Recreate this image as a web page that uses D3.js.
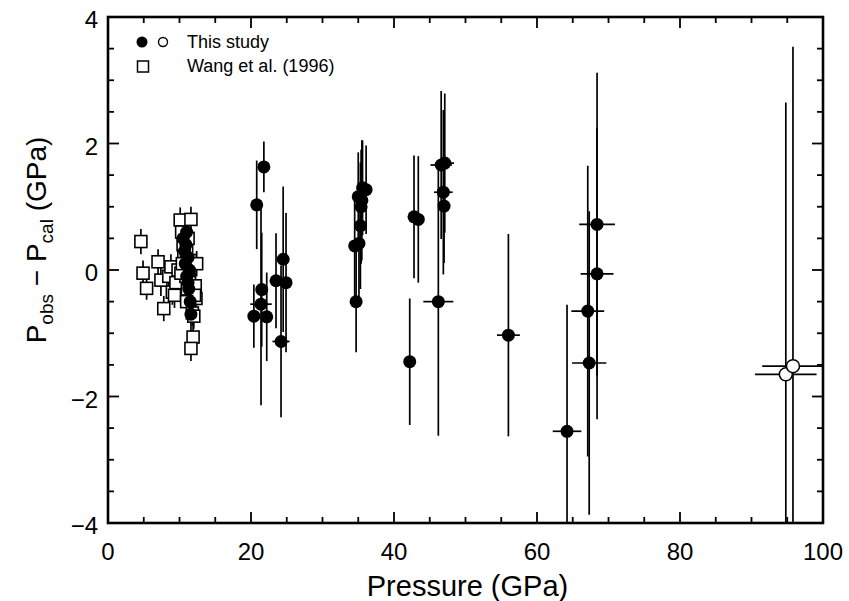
<!DOCTYPE html>
<html>
<head>
<meta charset="utf-8">
<script src="https://cdn.jsdelivr.net/npm/d3@7"></script>
<style>
  body { margin: 0; background: #fff; }
  svg { font-family: "Liberation Sans", Arial, Helvetica, sans-serif; }
</style>
</head>
<body>
<div id="chart"></div>
<script>
// This study, filled symbols: [pressure, Pobs-Pcal, sigmaP, sigmaDiff]
const thisStudyFilled = [
  [10.5, 0.5, 0, 0.3], [10.7, 0.3, 0, 0.3], [10.8, 0.1, 0, 0.3], [11.0, -0.1, 0, 0.3],
  [11.2, 0.2, 0, 0.3], [11.0, 0.6, 0, 0.3], [11.3, -0.3, 0, 0.3], [11.5, -0.5, 0, 0.3],
  [11.4, 0.0, 0, 0.3], [10.9, 0.4, 0, 0.3], [11.6, -0.7, 0, 0.3], [11.2, -0.2, 0, 0.3],
  [20.4, -0.73, 0, 0.5], [20.8, 1.03, 0, 0.7], [21.4, -0.54, 1.5, 1.6], [21.5, -0.31, 0, 0.9],
  [21.8, 1.63, 0, 0.4], [22.2, -0.74, 0, 0.7], [23.5, -0.17, 0, 0.75], [24.2, -1.13, 1.2, 1.2],
  [24.5, 0.17, 0, 1.15], [24.9, -0.2, 0, 1.1],
  [34.7, -0.5, 0, 0.8], [34.5, 0.38, 0, 0.85], [35.1, 0.42, 0, 0.9], [35.0, 1.16, 0, 0.7],
  [35.4, 1.0, 0, 0.9], [35.3, 0.7, 0, 1.0], [35.6, 1.3, 0, 0.75], [36.1, 1.27, 0, 0.7],
  [35.5, 1.1, 0, 0.95],
  [42.2, -1.45, 0, 1.0], [42.8, 0.84, 0, 0.97], [43.4, 0.8, 0, 1.0], [46.2, -0.5, 2.1, 2.12],
  [46.6, 1.66, 1.5, 1.17], [47.1, 1.69, 1.3, 1.1], [46.9, 1.23, 1.3, 1.3], [47.0, 1.01, 0.7, 0.9],
  [56.0, -1.03, 1.6, 1.6], [64.2, -2.55, 2.0, 2.0], [67.1, -0.65, 2.3, 2.3], [67.3, -1.47, 2.4, 2.4],
  [68.4, 0.72, 2.5, 2.4], [68.4, -0.06, 2.3, 2.3]
];

// This study, open symbols
const thisStudyOpen = [
  [94.8, -1.65, 4.3, 4.3], [95.8, -1.52, 4.3, 5.05]
];

// Wang et al. (1996): [pressure, Pobs-Pcal, sigmaDiff]
const wang1996 = [
  [4.6, 0.45, 0.2], [4.9, -0.05, 0.2], [5.4, -0.29, 0.18], [7.0, 0.13, 0.2], [7.4, -0.16, 0.25],
  [7.8, -0.61, 0.2], [8.5, -0.1, 0.2], [8.8, 0.05, 0.2], [9.0, -0.35, 0.2], [9.3, -0.4, 0.2],
  [9.5, -0.2, 0.2], [9.8, 0.0, 0.25], [10.1, 0.79, 0.2], [10.3, 0.6, 0.2], [10.5, 0.4, 0.2],
  [10.6, 0.2, 0.2], [10.8, 0.1, 0.2], [10.9, -0.1, 0.2], [11.0, 0.3, 0.2], [11.1, -0.3, 0.2],
  [11.2, 0.5, 0.2], [11.3, 0.0, 0.2], [11.4, -0.2, 0.2], [11.6, 0.8, 0.2], [11.5, 0.15, 0.2],
  [11.7, -0.45, 0.2], [11.8, -0.68, 0.2], [12.0, -0.73, 0.2], [12.4, 0.1, 0.2], [12.3, -0.45, 0.2],
  [12.2, -0.25, 0.2], [11.9, -1.06, 0.2], [11.6, -1.24, 0.2], [10.2, -0.05, 0.2], [10.4, 0.1, 0.3],
  [12.1, -0.4, 0.2], [11.0, -0.5, 0.2]
];

const xMajorTicks = [0, 20, 40, 60, 80, 100];
const yMajorTicks = [-4, -2, 0, 2, 4];

const width = 849, height = 601;
const margin = { top: 17, right: 26, bottom: 78, left: 108 };
const w = width - margin.left - margin.right;
const h = height - margin.top - margin.bottom;

const svg = d3.select('#chart').append('svg')
  .attr('width', width).attr('height', height);

const g = svg.append('g').attr('transform', `translate(${margin.left},${margin.top})`);

const x = d3.scaleLinear().domain([0, 100]).range([0, w]);
const y = d3.scaleLinear().domain([-4, 4]).range([h, 0]);

const plot = g.append('g');
svg.append('defs').append('clipPath').attr('id', 'clip')
  .append('rect').attr('width', w).attr('height', h);
plot.attr('clip-path', 'url(#clip)');

// error bars
function errBars(data, sx, sy) {
  data.forEach(d => {
    const px = d[0], py = d[1], ex = sx(d), ey = sy(d);
    if (ey > 0) {
      plot.append('line')
        .attr('x1', x(px)).attr('x2', x(px))
        .attr('y1', y(py + ey)).attr('y2', y(py - ey))
        .attr('stroke', '#000').attr('stroke-width', 1.7);
    }
    if (ex > 0) {
      plot.append('line')
        .attr('x1', x(px - ex)).attr('x2', x(px + ex))
        .attr('y1', y(py)).attr('y2', y(py))
        .attr('stroke', '#000').attr('stroke-width', 1.7);
    }
  });
}
errBars(wang1996, () => 0, d => d[2]);
errBars(thisStudyFilled, d => d[2], d => d[3]);
errBars(thisStudyOpen, d => d[2], d => d[3]);

// Wang squares
plot.selectAll('rect.wang').data(wang1996).enter().append('rect')
  .attr('class', 'wang')
  .attr('x', d => x(d[0]) - 6).attr('y', d => y(d[1]) - 6)
  .attr('width', 12).attr('height', 12)
  .attr('fill', '#fff').attr('stroke', '#000').attr('stroke-width', 1.6);

// this study
plot.selectAll('circle.filled').data(thisStudyFilled).enter().append('circle')
  .attr('class', 'filled')
  .attr('cx', d => x(d[0])).attr('cy', d => y(d[1])).attr('r', 6.5)
  .attr('fill', '#000');

plot.selectAll('circle.open').data(thisStudyOpen).enter().append('circle')
  .attr('class', 'open')
  .attr('cx', d => x(d[0])).attr('cy', d => y(d[1])).attr('r', 6.5)
  .attr('fill', '#fff').attr('stroke', '#000').attr('stroke-width', 1.5);

// inward ticks on all four sides
const xMinor = d3.range(0, 101, 5);
const yMinor = d3.range(-4, 4.01, 0.5);
const isXMajor = v => xMajorTicks.includes(v);
const isYMajor = v => yMajorTicks.some(t => Math.abs(t - v) < 1e-6);
const ticks = g.append('g').attr('stroke', '#000').attr('stroke-width', 1.8);
xMinor.forEach(v => {
  const len = isXMajor(v) ? 11 : 6;
  ticks.append('line').attr('x1', x(v)).attr('x2', x(v)).attr('y1', h).attr('y2', h - len);
  ticks.append('line').attr('x1', x(v)).attr('x2', x(v)).attr('y1', 0).attr('y2', len);
});
yMinor.forEach(v => {
  const len = isYMajor(v) ? 11 : 6;
  ticks.append('line').attr('x1', 0).attr('x2', len).attr('y1', y(v)).attr('y2', y(v));
  ticks.append('line').attr('x1', w).attr('x2', w - len).attr('y1', y(v)).attr('y2', y(v));
});

// frame
g.append('rect').attr('width', w).attr('height', h)
  .attr('fill', 'none').attr('stroke', '#000').attr('stroke-width', 2.6);

// tick labels
g.selectAll('text.xl').data(xMajorTicks).enter().append('text')
  .attr('class', 'xl')
  .attr('x', d => x(d)).attr('y', h + 37)
  .attr('text-anchor', 'middle').attr('font-size', 24)
  .text(d => d);

g.selectAll('text.yl').data(yMajorTicks).enter().append('text')
  .attr('class', 'yl')
  .attr('x', -10).attr('y', d => y(d) + 5)
  .attr('text-anchor', 'end').attr('dominant-baseline', 'middle').attr('font-size', 24)
  .text(d => d < 0 ? '\u2212' + Math.abs(d) : d);

// axis titles
g.append('text')
  .attr('x', w / 2 + 2).attr('y', h + 73)
  .attr('text-anchor', 'middle').attr('font-size', 29)
  .text('Pressure (GPa)');

const yt = g.append('text')
  .attr('transform', `translate(-62,${h / 2 - 30}) rotate(-90)`)
  .attr('text-anchor', 'middle').attr('font-size', 28);
yt.append('tspan').text('P');
yt.append('tspan').attr('font-size', 19).attr('dy', 7).text('obs');
yt.append('tspan').attr('dy', -7).text(' \u2212 P');
yt.append('tspan').attr('font-size', 19).attr('dy', 7).text('cal');
yt.append('tspan').attr('dy', -7).text(' (GPa)');

// legend
const lg = svg.append('g');
lg.append('circle').attr('cx', 142).attr('cy', 42).attr('r', 5.5).attr('fill', '#000');
lg.append('circle').attr('cx', 163).attr('cy', 42).attr('r', 4.5)
  .attr('fill', '#fff').attr('stroke', '#000').attr('stroke-width', 1.4);
lg.append('text').attr('x', 187).attr('y', 48).attr('font-size', 18).text('This study');
lg.append('rect').attr('x', 137.5).attr('y', 61).attr('width', 11).attr('height', 11)
  .attr('fill', '#fff').attr('stroke', '#000').attr('stroke-width', 1.5);
lg.append('text').attr('x', 187).attr('y', 72).attr('font-size', 18).text('Wang et al. (1996)');
</script>
</body>
</html>
